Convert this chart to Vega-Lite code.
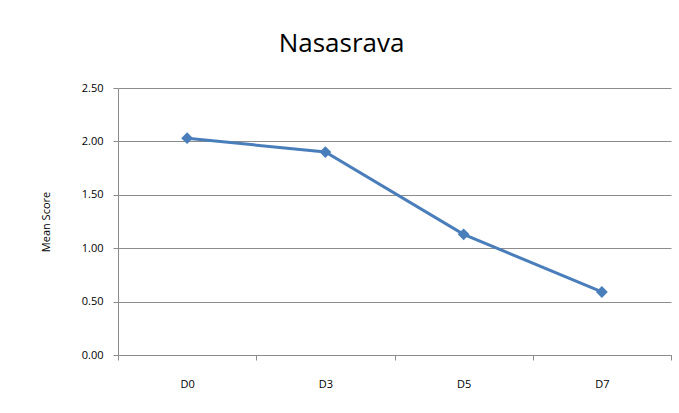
{
  "$schema": "https://vega.github.io/schema/vega-lite/v6.json",
  "width": 553,
  "height": 267,
  "autosize": {"type": "none"},
  "padding": {"left": 118, "top": 88, "right": 8, "bottom": 58},
  "background": "white",
  "title": {"text": "Nasasrava", "anchor": "middle", "frame": "group", "dx": -53, "offset": 25, "fontSize": 26, "font": "Open Sans", "fontWeight": 500, "color": "#000000"},
  "data": {"values": [
    {"day": "D0", "score": 2.03},
    {"day": "D3", "score": 1.90},
    {"day": "D5", "score": 1.13},
    {"day": "D7", "score": 0.59}
  ]},
  "encoding": {
    "x": {"field": "day", "type": "nominal", "sort": null,
      "scale": {"type": "band", "paddingInner": 0, "paddingOuter": 0},
      "axis": {"title": null, "labelAngle": 0, "tickBand": "extent", "tickSize": 5, "labelPadding": 18, "grid": false, "domainColor": "#8c8c8c", "tickColor": "#8c8c8c", "labelFont": "Open Sans", "labelFontSize": 11, "labelColor": "#000000"}},
    "y": {"field": "score", "type": "quantitative",
      "scale": {"domain": [0, 2.5], "nice": false},
      "axis": {"title": "Mean Score", "values": [0, 0.5, 1, 1.5, 2, 2.5], "format": ".2f", "tickSize": 5, "labelPadding": 10, "domainColor": "#8c8c8c", "tickColor": "#8c8c8c", "gridColor": "#8c8c8c", "gridOpacity": 1, "labelFont": "Open Sans", "labelFontSize": 11, "labelColor": "#000000", "titleFont": "Open Sans", "titleFontSize": 11, "titleFontWeight": "normal", "titleColor": "#000000", "titlePadding": 30}}
  },
  "layer": [
    {"mark": {"type": "line", "color": "#4a7ebb", "strokeWidth": 3}},
    {"mark": {"type": "point", "shape": "diamond", "filled": true, "color": "#4a7ebb", "opacity": 1, "size": 140}}
  ],
  "config": {"view": {"stroke": null}}
}
